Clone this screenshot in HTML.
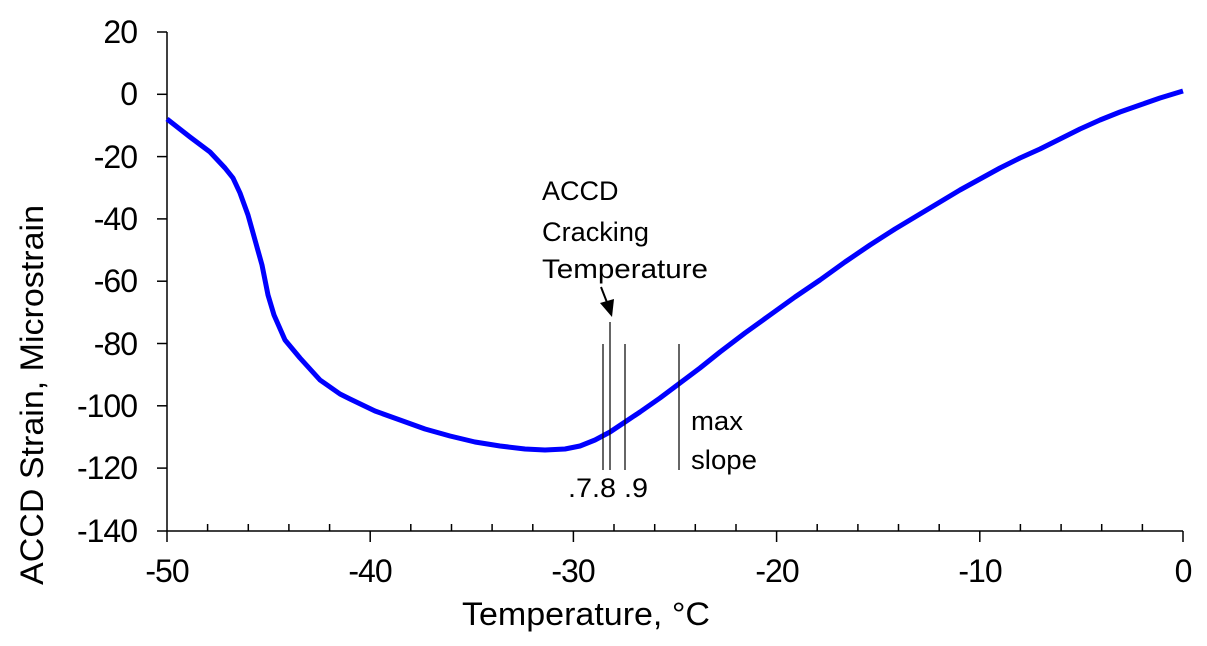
<!DOCTYPE html>
<html><head><style>body{margin:0;background:#fff}svg{display:block}text{font-family:"Liberation Sans",sans-serif}</style></head><body>
<svg width="1207" height="646" viewBox="0 0 1207 646">
<g stroke="#000" stroke-width="1.5" fill="none">
<line x1="167" y1="32" x2="167" y2="531"/>
<line x1="157" y1="531" x2="1183" y2="531"/>
<line x1="157" y1="32" x2="167" y2="32"/><line x1="157" y1="94.3" x2="167" y2="94.3"/><line x1="157" y1="156.6" x2="167" y2="156.6"/><line x1="157" y1="218.9" x2="167" y2="218.9"/><line x1="157" y1="281.2" x2="167" y2="281.2"/><line x1="157" y1="343.5" x2="167" y2="343.5"/><line x1="157" y1="405.8" x2="167" y2="405.8"/><line x1="157" y1="468.1" x2="167" y2="468.1"/>
<path d="M167 531v11M370.2 531v11M573.4 531v11M776.6 531v11M979.8 531v11M1183 531v11"/>
<path d="M207.6 531v-7M248.3 531v-7M288.9 531v-7M329.6 531v-7M410.8 531v-7M451.5 531v-7M492.1 531v-7M532.8 531v-7M614 531v-7M654.7 531v-7M695.3 531v-7M736 531v-7M817.2 531v-7M857.9 531v-7M898.5 531v-7M939.2 531v-7M1020.4 531v-7M1061.1 531v-7M1101.7 531v-7M1142.4 531v-7"/>
</g>
<g font-size="32" text-anchor="end" letter-spacing="-1">
<text x="137" y="43">20</text><text x="137" y="105">0</text><text x="137" y="168">-20</text><text x="137" y="230">-40</text><text x="137" y="292">-60</text><text x="137" y="355">-80</text><text x="137" y="417">-100</text><text x="137" y="479">-120</text><text x="137" y="542">-140</text>
</g>
<g font-size="32" text-anchor="middle" letter-spacing="-1">
<text x="167" y="582">-50</text><text x="370" y="582">-40</text><text x="573" y="582">-30</text><text x="777" y="582">-20</text><text x="980" y="582">-10</text><text x="1183" y="582">0</text>
</g>
<text x="462" y="625" font-size="32" textLength="248" lengthAdjust="spacingAndGlyphs">Temperature, °C</text>
<text transform="translate(43,585) rotate(-90)" font-size="32" textLength="380" lengthAdjust="spacingAndGlyphs">ACCD Strain, Microstrain</text>
<polyline fill="none" stroke="#0000ff" stroke-width="5" stroke-linejoin="round" points="167,119 190,137 210,152 225,168 233,178 240,193 248,215 255,240 262,265 268,295 274,315 285,340 300,358 320,380 340,394 350,399 375,411 400,420 425,429 450,436 475,442 500,446 525,449 545,450 565,449 580,446 595,440 610,432 625,422 640,412 660,398 680,383 700,368 720,352 745,333 770,315 795,297 820,280 845,262 870,245 895,229 920,214 945,199 960,190 980,179 1000,168 1020,158 1040,149 1060,139 1080,129 1100,120 1120,112 1140,105 1160,98 1183,91"/>
<g stroke="#000" stroke-width="1.2">
<line x1="603" y1="344" x2="603" y2="470"/><line x1="610" y1="322" x2="610" y2="470"/><line x1="625" y1="344" x2="625" y2="470"/><line x1="679" y1="344" x2="679" y2="470"/>
<line x1="601" y1="287" x2="608" y2="305" stroke-width="2"/>
</g>
<polygon points="600,303 612,317 614,299"/>
<g font-size="27">
<text x="542" y="200">ACCD</text>
<text x="542" y="241" textLength="107" lengthAdjust="spacingAndGlyphs">Cracking</text>
<text x="542" y="278" textLength="166" lengthAdjust="spacingAndGlyphs">Temperature</text>
<text x="691" y="430" textLength="52" lengthAdjust="spacingAndGlyphs">max</text>
<text x="691" y="469" textLength="66" lengthAdjust="spacingAndGlyphs">slope</text>
<text x="568" y="497" textLength="80" lengthAdjust="spacingAndGlyphs">.7.8 .9</text>
</g>
</svg>
</body></html>
